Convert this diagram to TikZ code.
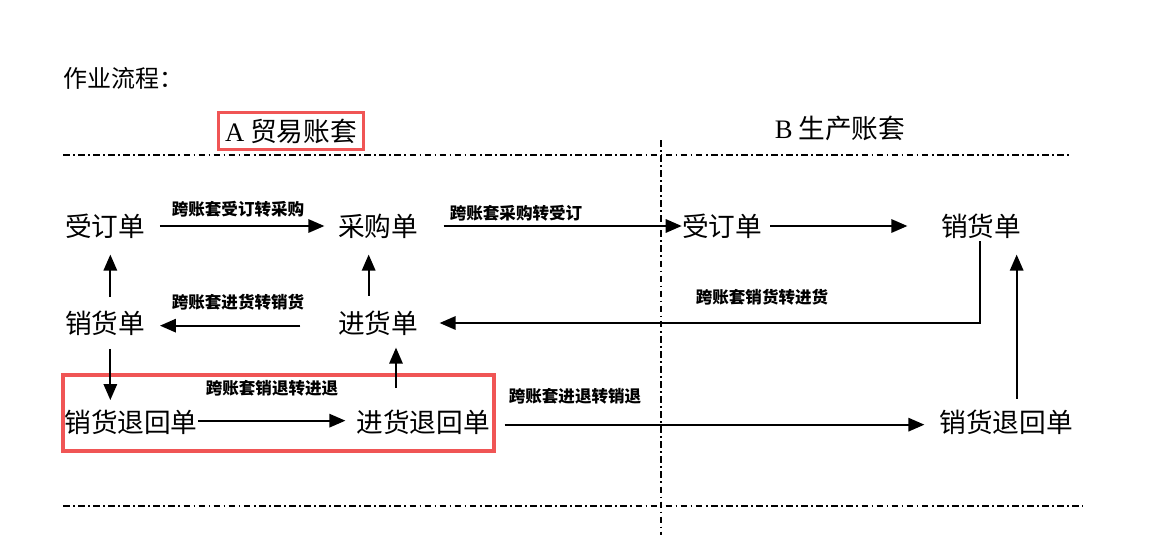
\documentclass[tikz,border=0pt]{standalone}
\usepackage{fontspec}
\setmainfont{Liberation Serif}
\newfontfamily\cjk{Noto Sans CJK SC}
\usetikzlibrary{arrows.meta}

\definecolor{boxred}{RGB}{240,85,85}

\tikzset{
  doc/.style={font=\cjk\fontsize{20}{20}\selectfont, inner sep=0pt},
  lbl/.style={font=\cjk\bfseries\fontsize{12.4}{12.4}\selectfont, inner sep=0pt},
  flow/.style={line width=1.5pt, -{Triangle[length=12pt,width=10pt]}},
  sep/.style={line width=1.3pt, dash pattern=on 5pt off 2.5pt on 1.3pt off 2.5pt},
  redbox/.style={draw=boxred, line width=2.4pt}
}

\begin{document}
\begin{tikzpicture}[x=0.75pt,y=-0.75pt]
\useasboundingbox[fill=white] (0,0) rectangle (1150,550);

% headings
\node[doc, anchor=west, font=\cjk\fontsize{18}{18}\selectfont] (title) at (63,78) {作业流程：};
\node[doc, redbox, inner xsep=5pt, inner ysep=4.5pt] (ta) at (291,131) {{\rmfamily A} 贸易账套};
\node[doc] (tb) at (840,128) {{\rmfamily B} 生产账套};

% separators
\draw[sep] (63,155) -- (1070,155);
\draw[sep] (63,506) -- (1083,506);
\draw[sep] (661,140) -- (661,535);

% A side
\node[doc] (a1) at (105,226) {受订单};
\node[doc] (b1) at (378,226) {采购单};
\node[doc] (a2) at (105,323) {销货单};
\node[doc] (b2) at (378,323) {进货单};
\node[doc] (a3) at (131,422) {销货退回单};
\node[doc] (b3) at (423,422) {进货退回单};
\draw[redbox] (63,375) rectangle (494,451);

% B side
\node[doc] (c1) at (722,226) {受订单};
\node[doc] (d1) at (981,226) {销货单};
\node[doc] (d3) at (1006,422) {销货退回单};

% labels
\node[lbl] (l1) at (238,209) {跨账套受订转采购};
\node[lbl] (l2) at (516,213) {跨账套采购转受订};
\node[lbl] (l4) at (762,297) {跨账套销货转进货};
\node[lbl] (l6) at (238,302) {跨账套进货转销货};
\node[lbl] (l11) at (272,388) {跨账套销退转进退};
\node[lbl] (l12) at (575,396) {跨账套进退转销退};

% flows
\draw[flow, shorten <=11pt, shorten >=10pt] (a1.east) -- (b1.west);
\draw[flow, shorten <=19pt] (b1.east) -- (c1.west);
\draw[flow, shorten <=6pt, shorten >=25pt] (c1.east) -- (d1.west);
\draw[flow, shorten <=2pt, shorten >=16pt] ([xshift=-1pt]d1.south) |- (b2.east);
\draw[flow, shorten <=8pt, shorten >=12pt] ([xshift=8pt]d3.north) -- ([xshift=8pt]d3.north |- d1.south);
\draw[flow, shorten <=28pt, shorten >=11pt] ([yshift=-2pt]b2.west) -- ([yshift=-2pt]a2.east);
\draw[flow, shorten <=10pt, shorten >=12pt] ([xshift=4pt]a2.north) -- ([xshift=4pt]a1.south);
\draw[flow, shorten <=11pt, shorten >=12pt] ([xshift=-7pt]b2.north) -- ([xshift=-7pt]b1.south);
\draw[flow, shorten <=10pt, shorten >=7pt] ([xshift=4pt]a2.south) -- ([xshift=4pt]a2.south |- a3.north);
\draw[flow, shorten <=16pt, shorten >=9pt] ([xshift=13.5pt]b2.south |- b3.north) -- ([xshift=13.5pt]b2.south);
\draw[flow, shorten >=8pt] ([yshift=1pt]a3.east) -- ([yshift=1pt]b3.west);
\draw[flow, shorten <=11pt, shorten >=11pt] ([yshift=-2pt]b3.east) -- ([yshift=-2pt]d3.west);
\end{tikzpicture}
\end{document}
